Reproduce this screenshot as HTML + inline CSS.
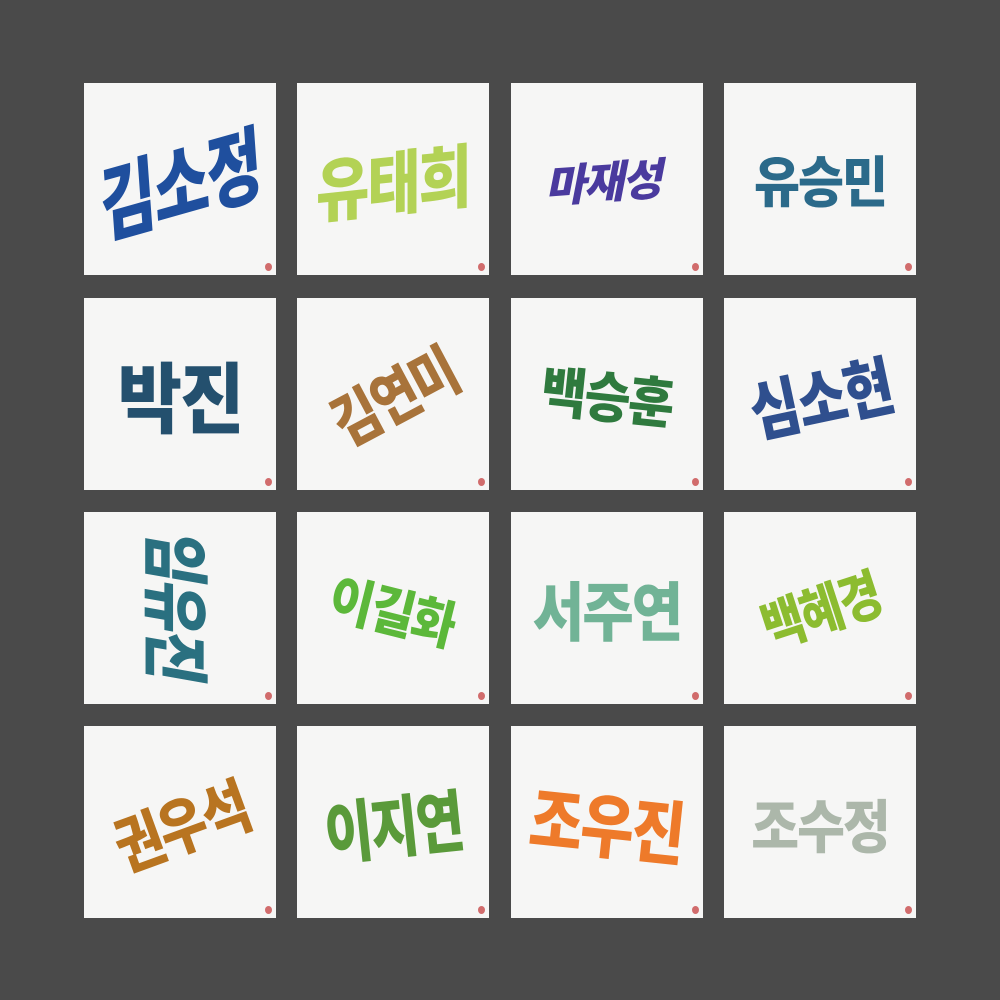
<!DOCTYPE html>
<html><head><meta charset="utf-8"><style>
html,body{margin:0;padding:0;}
body{width:1000px;height:1000px;background:#4a4a4a;position:relative;overflow:hidden;font-family:"Liberation Sans","Noto Sans CJK KR",sans-serif;}
.card{position:absolute;width:192px;height:192px;background:#f6f6f5;overflow:hidden;}
.t{position:absolute;left:0;top:0;width:192px;height:192px;display:flex;align-items:center;justify-content:center;font-weight:900;font-family:"Noto Sans CJK KR","NanumGothic",sans-serif;white-space:nowrap;letter-spacing:-2px;}
.seal{position:absolute;right:4px;bottom:4px;width:7px;height:8px;border-radius:50%;background:#c84a4a;opacity:.8;}
</style></head><body>
<div id="grid"></div>
<script>
const names=["김소정","유태희","마재성","유승민","박진","김연미","백승훈","심소현","임유진","이길화","서주연","백혜경","권우석","이지연","조우진","조수정"];
const colors=["#1f4f9e","#a8cc3a","#4a3a9e","#2b6a8a","#24506e","#a8733a","#2f7a3e","#2f4f8e","#2a7080","#5cb83a","#5aa886","#8cbc30","#b87420","#5a9a3a","#ee7a2a","#9aa898"];
const sizes=[60,58,44,50,70,50,50,54,56,48,56,46,52,52,58,52];
const xs=[84,297,511,724], ys=[83,298,512,726];
const tf=["skewY(-12deg) rotate(-4deg) scaleY(1.4)","skewY(-6deg) scaleY(1.2)","rotate(-4deg) skewX(-15deg)","scaleY(1.1)","scaleY(1.1)","rotate(-28deg) scaleY(1.2)","rotate(6deg) scaleY(1.1)","rotate(-12deg) scaleY(1.2)","rotate(90deg) skewX(-10deg) scaleY(1.2)","rotate(14deg) scaleY(1.1)","scaleY(1.15)","rotate(-18deg) scaleY(1.2)","rotate(-20deg) scaleY(1.2)","rotate(-6deg) scaleY(1.3)","rotate(6deg) scaleY(1.2)","scaleY(1.1)"];
const grid=document.getElementById('grid');
names.forEach((n,i)=>{
  const c=document.createElement('div');
  c.className='card';
  
  
  c.style.left=xs[i%4]+'px';c.style.top=ys[Math.floor(i/4)]+'px';
  const t=document.createElement('div');
  t.className='t';
  
  
  t.textContent=n;
  t.style.color=colors[i];t.style.fontSize=sizes[i]+'px';t.style.transform=tf[i];
  if(i===15) t.style.opacity='.8';
  if(i===1||i===10) t.style.opacity='.85';
  const s=document.createElement('div');
  s.className='seal';
  
  
  c.appendChild(t);c.appendChild(s);grid.appendChild(c);
});
</script>
</body></html>
